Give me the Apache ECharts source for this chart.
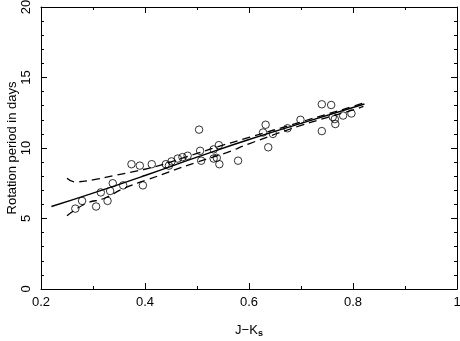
<!DOCTYPE html>
<html>
<head>
<meta charset="utf-8">
<script src="https://cdn.jsdelivr.net/npm/echarts@6/dist/echarts.min.js"></script>
<style>
  html, body { margin: 0; padding: 0; background: #fff; }
  #chart { width: 460px; height: 341px; }
</style>
</head>
<body>
<div id="chart"></div>
<script>
  // observed stars: J-Ks colour vs rotation period (days)
  const starJK = [0.266, 0.279, 0.306, 0.315, 0.328, 0.333, 0.338, 0.358, 0.374, 0.390,
    0.396, 0.413, 0.440, 0.446, 0.451, 0.463, 0.472, 0.482, 0.504, 0.506,
    0.508, 0.532, 0.532, 0.538, 0.542, 0.543, 0.579, 0.627, 0.632, 0.637,
    0.646, 0.674, 0.699, 0.740, 0.740, 0.758, 0.761, 0.765, 0.766, 0.781, 0.797];
  const starPeriod = [5.7, 6.25, 5.85, 6.85, 6.25, 6.95, 7.5, 7.35, 8.85, 8.75,
    7.35, 8.85, 8.85, 8.75, 9.05, 9.25, 9.35, 9.45, 11.3, 9.8,
    9.1, 9.9, 9.25, 9.3, 10.2, 8.85, 9.1, 11.1, 11.65, 10.05,
    11.0, 11.4, 12.0, 13.1, 11.2, 13.05, 12.2, 12.05, 11.7, 12.3, 12.45];

  // fitted relation
  const fitJK = [0.22, 0.3, 0.4, 0.5, 0.6, 0.7, 0.822];
  const fitPeriod = [5.85, 6.8, 8.05, 9.35, 10.6, 11.75, 13.12];

  // dashed envelope curves
  const upperJK = [0.25, 0.265, 0.3, 0.34, 0.385, 0.42, 0.5, 0.55, 0.6, 0.7, 0.8, 0.82];
  const upperPeriod = [7.85, 7.6, 7.74, 8.04, 8.38, 8.68, 9.62, 10.2, 10.75, 11.85, 12.95, 13.2];
  const lowerJK = [0.25, 0.288, 0.32, 0.36, 0.404, 0.5, 0.557, 0.6, 0.7, 0.8, 0.82];
  const lowerPeriod = [5.2, 6.09, 6.4, 7.15, 7.74, 9.0, 9.67, 10.3, 11.6, 12.7, 12.95];

  const FONT = 'Liberation Sans';
  const pairs = (xs, ys) => xs.map((x, i) => [x, ys[i]]);

  // an axis that only draws the frame side with inward ticks
  const tickAxis = (position, min, max, interval, minorSplit) => ({
    type: 'value',
    position,
    min,
    max,
    interval,
    axisLine: { show: true, onZero: false, lineStyle: { color: '#000', width: 1 } },
    axisTick: { show: true, inside: true, length: 6, lineStyle: { color: '#000' } },
    minorTick: { show: true, splitNumber: minorSplit, length: 3, lineStyle: { color: '#000' } },
    splitLine: { show: false },
    axisLabel: { show: false },
  });

  const chart = echarts.init(document.getElementById('chart'));
  chart.setOption({
    animation: false,
    backgroundColor: '#fff',
    grid: { left: 41, right: 3, top: 7, bottom: 52, outerBoundsMode: 'none' },
    xAxis: [
      {
        type: 'value',
        min: 0.2,
        max: 1,
        interval: 0.2,
        axisLine: { show: false },
        axisTick: { show: false },
        splitLine: { show: false },
        axisLabel: {
          color: '#000',
          fontFamily: FONT,
          fontSize: 13,
          margin: 7,
          formatter: (v) => String(+v.toFixed(1)),
        },
        name: '{a|J\u2212K}{b|s}',
        nameLocation: 'middle',
        nameGap: 33,
        nameMoveOverlap: false,
        nameTextStyle: {
          rich: {
            a: { fontFamily: FONT, fontSize: 13, color: '#000' },
            b: { fontFamily: FONT, fontSize: 9, fontWeight: 'bold', color: '#000', padding: [7, 0, 0, 0] },
          },
        },
      },
      tickAxis('bottom', 0.2, 1, 0.2, 2),
      tickAxis('top', 0.2, 1, 0.2, 2),
    ],
    yAxis: [
      {
        type: 'value',
        min: 0,
        max: 20,
        interval: 5,
        axisLine: { show: false },
        axisTick: { show: false },
        splitLine: { show: false },
        axisLabel: { rotate: 90, color: '#000', fontFamily: FONT, fontSize: 13, margin: 8 },
        name: 'Rotation period in days',
        nameLocation: 'middle',
        nameGap: 22,
        nameMoveOverlap: false,
        nameTextStyle: { color: '#000', fontFamily: FONT, fontSize: 13 },
      },
      tickAxis('left', 0, 20, 5, 5),
      tickAxis('right', 0, 20, 5, 5),
    ],
    series: [
      {
        type: 'line',
        data: pairs(fitJK, fitPeriod),
        smooth: true,
        showSymbol: false,
        lineStyle: { color: '#000', width: 1.4 },
      },
      {
        type: 'line',
        data: pairs(upperJK, upperPeriod),
        smooth: true,
        showSymbol: false,
        lineStyle: { color: '#000', width: 1.3, type: [8, 5] },
      },
      {
        type: 'line',
        data: pairs(lowerJK, lowerPeriod),
        smooth: true,
        showSymbol: false,
        lineStyle: { color: '#000', width: 1.3, type: [8, 5] },
      },
      {
        type: 'scatter',
        data: pairs(starJK, starPeriod),
        symbol: 'circle',
        symbolSize: 7.5,
        itemStyle: { color: 'rgba(0,0,0,0)', borderColor: '#000', borderWidth: 1 },
      },
    ],
  });
</script>
</body>
</html>
